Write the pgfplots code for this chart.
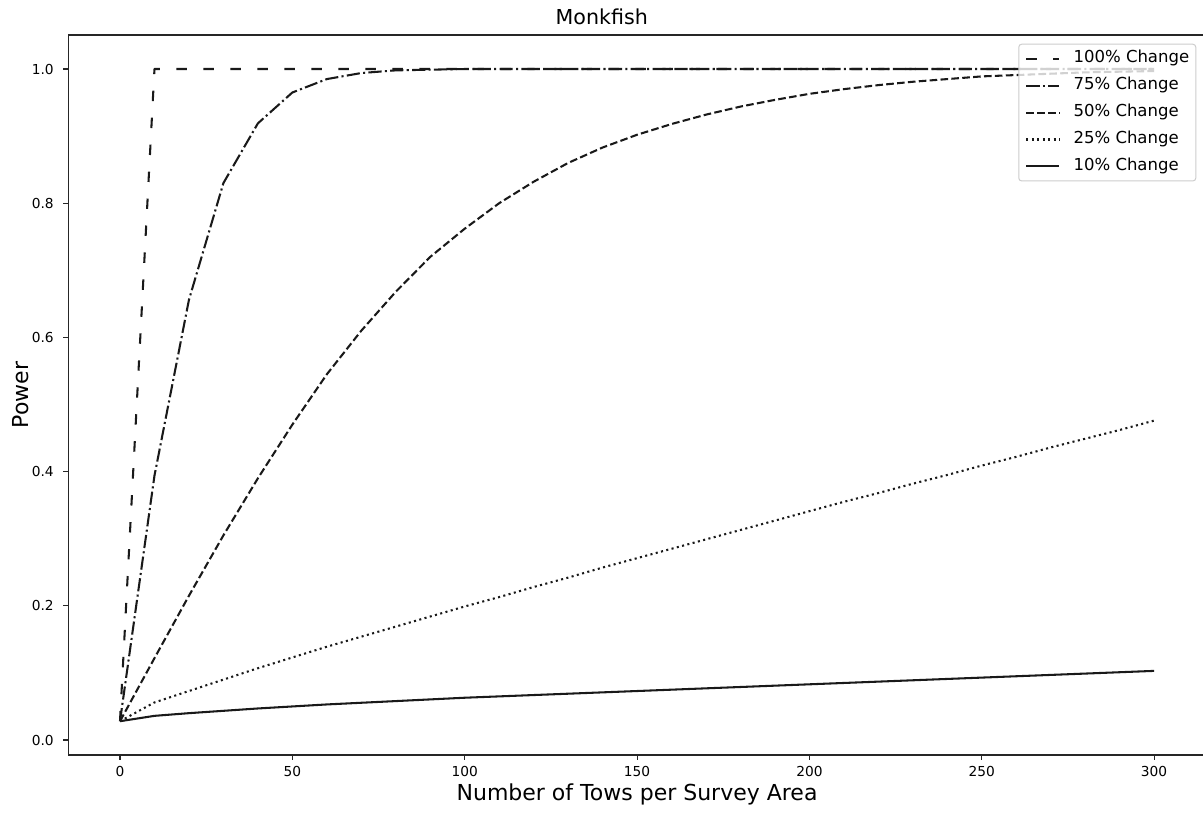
\documentclass[border=0pt]{standalone}
\usepackage{pgfplots}
\pgfplotsset{compat=1.18}
\usepackage{pgfplotstable}
\usepackage{fontspec}
\setmainfont{DejaVu Sans}

\pgfplotstableread{
x p100 p75 p50 p25 p10
0 0.028 0.028 0.028 0.028 0.028
10 1.0 0.394 0.122 0.056 0.036
20 1.0 0.656 0.215 0.073 0.040
30 1.0 0.830 0.305 0.090 0.0435
40 1.0 0.919 0.390 0.107 0.047
50 1.0 0.965 0.470 0.123 0.050
60 1.0 0.985 0.545 0.139 0.053
70 1.0 0.994 0.610 0.154 0.0555
80 1.0 0.998 0.668 0.169 0.058
90 1.0 0.999 0.720 0.184 0.0605
100 1.0 1.0 0.762 0.199 0.063
110 1.0 1.0 0.800 0.213 0.065
120 1.0 1.0 0.832 0.228 0.067
130 1.0 1.0 0.860 0.242 0.069
140 1.0 1.0 0.883 0.257 0.071
150 1.0 1.0 0.902 0.271 0.073
160 1.0 1.0 0.918 0.285 0.075
170 1.0 1.0 0.932 0.299 0.077
180 1.0 1.0 0.944 0.313 0.079
190 1.0 1.0 0.954 0.327 0.081
200 1.0 1.0 0.963 0.341 0.083
210 1.0 1.0 0.970 0.355 0.085
220 1.0 1.0 0.976 0.368 0.087
230 1.0 1.0 0.981 0.382 0.089
240 1.0 1.0 0.985 0.395 0.091
250 1.0 1.0 0.989 0.409 0.093
260 1.0 1.0 0.991 0.422 0.095
270 1.0 1.0 0.993 0.436 0.097
280 1.0 1.0 0.995 0.449 0.099
290 1.0 1.0 0.996 0.462 0.101
300 1.0 1.0 0.997 0.476 0.103
}\datatable

\begin{document}
\begin{tikzpicture}
\begin{axis}[
  scale only axis,
  width=1137.5pt, height=720pt,
  xmin=-15, xmax=315, ymin=-0.02235, ymax=1.0507,
  axis x line*=box, axis y line*=left,
  axis line style={line width=1.1pt, black!85},
  tick pos=left, tick align=outside,
  major tick length=4.8pt,
  every tick/.style={black!85, line width=1.1pt},
  xtick={0,50,100,150,200,250,300},
  ytick={0,0.2,0.4,0.6,0.8,1.0},
  /pgf/number format/assume math mode=true,
  xticklabel style={font=\fontsize{13.75}{16}\selectfont, anchor=base, inner sep=0pt, yshift=-17pt},
  yticklabel style={font=\fontsize{13.75}{16}\selectfont, anchor=east, inner sep=0pt, xshift=-9.6pt,
    /pgf/number format/.cd, fixed, fixed zerofill, precision=1},
  scaled y ticks=false,
  title={Monkfish},
  title style={font=\fontsize{20.6}{24}\selectfont, at={(0.469,1)}, anchor=base, yshift=4.5pt},
  xlabel={Number of Tows per Survey Area},
  xlabel style={font=\fontsize{22}{26}\selectfont, at={(0.5,0)}, anchor=base, yshift=-45.5pt},
  ylabel={Power},
  ylabel style={font=\fontsize{22}{26}\selectfont, at={(-0.0354,0.5)}, anchor=base},
  legend cell align=left,
  legend image code/.code={\draw[#1] (0pt,0pt) -- (33pt,0pt);},
  legend style={at={(1,1)}, anchor=north east, xshift=-9.5pt, yshift=-8.7pt,
    draw=black!20, line width=1pt, rounded corners=3pt, fill=white, fill opacity=0.8, text opacity=1,
    inner sep=6.6pt, row sep=10.9pt, column sep=13.2pt,
    font=\fontsize{16.5}{19}\selectfont,
    nodes={inner sep=0pt, text height=12pt, text depth=4pt}},
]
\addplot[black!90, line width=2.06pt, line join=round, dash pattern=on 10.4pt off 16.6pt] table[x=x,y=p100]{\datatable};
\addlegendentry{100\% Change}
\addplot[black!90, line width=2.06pt, line join=round, dash pattern=on 13.2pt off 3.3pt on 2.06pt off 3.3pt] table[x=x,y=p75]{\datatable};
\addlegendentry{75\% Change}
\addplot[black!90, line width=2.06pt, line join=round, dash pattern=on 7.6pt off 3.3pt] table[x=x,y=p50]{\datatable};
\addlegendentry{50\% Change}
\addplot[black!90, line width=2.06pt, line join=round, dash pattern=on 2.06pt off 3.4pt] table[x=x,y=p25]{\datatable};
\addlegendentry{25\% Change}
\addplot[black!90, line width=2.06pt, line join=round] table[x=x,y=p10]{\datatable};
\addlegendentry{10\% Change}
\end{axis}
\pgfresetboundingbox
\path (-68.3pt,-57pt) rectangle (1134.7pt,755pt);
\end{tikzpicture}
\end{document}
